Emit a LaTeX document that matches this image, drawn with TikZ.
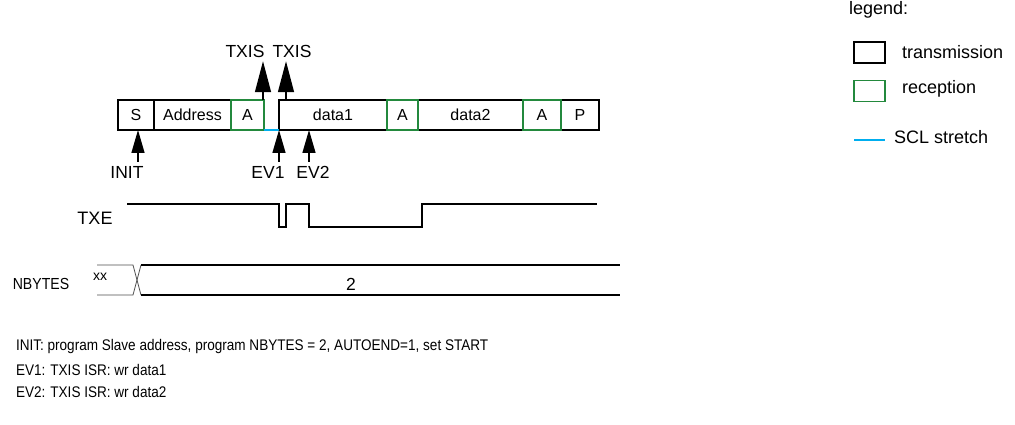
\documentclass[tikz,border=0pt]{standalone}
\usepackage{fontspec}
\setmainfont{Liberation Sans}
\usetikzlibrary{arrows.meta,positioning}
\definecolor{rxgreen}{HTML}{23893D}
\definecolor{sclblue}{HTML}{00AEEF}
\newcommand{\narrow}[1]{\scalebox{0.88}[1]{#1}}

\begin{document}
\begin{tikzpicture}[x=1pt,y=-1pt,line width=1.4pt,
      font=\fontsize{17.5}{20}\selectfont,
      fr/.style={draw,inner sep=0pt,outer sep=0pt,minimum height=30pt,font=\fontsize{16}{18}\selectfont},
      rx/.style={fr,draw=rxgreen},
      evt/.style={-{Triangle[length=23pt,width=13pt]}},
      flag/.style={-{Triangle[length=31pt,width=16pt]}},
      lgd/.style={anchor=west,font=\fontsize{18}{20}\selectfont},
      note/.style={anchor=west,font=\fontsize{15.4}{18}\selectfont}]
    \useasboundingbox (0,0) rectangle (1015,425);
    % frame: transmitted bytes first, received acks on top
    \node[fr,minimum width=36pt] (s) at (136,115) {S};
    \node[fr,minimum width=77pt,right=0pt of s] (ad) {Address};
    \node[fr,minimum width=108pt,right=48pt of ad] (d1) {data1};
    \node[fr,minimum width=105pt,right=31pt of d1] (d2) {data2};
    \node[fr,minimum width=38pt,right=38pt of d2] (p) {P};
    \node[rx,minimum width=33pt,right=0pt of ad] (a0) {A};
    \node[rx,minimum width=31pt,right=0pt of d1] (a1) {A};
    \node[rx,minimum width=38pt,right=0pt of d2] (a2) {A};
    \draw[sclblue] (a0.south east) -- (d1.south west);
    % TXIS flags
    \node (t1) at (245,51) {TXIS};
    \node (t2) at (292,51) {TXIS};
    \coordinate (f2) at ([xshift=7pt]d1.north west);
    \draw[flag] ([xshift=-1pt]a0.north east) -- ([xshift=-1pt]a0.north east |- t1.south);
    \draw[flag] (f2) -- (f2 |- t2.south);
    % events
    \node (init) at (127,172) {INIT};
    \node (ev1) at (268,172) {EV1};
    \node (ev2) at (313,172) {EV2};
    \coordinate (e2) at ([xshift=30pt]d1.south west);
    \draw[evt] ([xshift=2pt]init.north -| s.south) -- ([xshift=2pt]s.south);
    \draw[evt] (ev1.north -| d1.south west) -- (d1.south west);
    \draw[evt] (ev2.north -| e2) -- (e2);
    % TXE
    \node[font=\fontsize{18}{20}\selectfont] (txe) at (95,218) {TXE};
    \draw (127,204) -| (279,227) -| (286,204) -| (309,227) -| (422,204) -- (597,204);
    % NBYTES
    \node[font=\fontsize{16}{18}\selectfont] (nb) at (41,284) {\narrow{NBYTES}};
    \node[font=\fontsize{14}{16}\selectfont] (xx) at (100,277) {xx};
    \draw[line width=0.8pt,black!70] (97,265) -- (133,265) -- (141,295);
    \draw[line width=0.8pt,black!70] (97,295) -- (133,295) -- (141,265);
    \draw (141,265) -- (620,265);
    \draw (141,295) -- (620,295);
    \node (two) at (351,284) {2};
    % legend
    \node[lgd] (lg) at (845,9.5) {legend:};
    \node[fr,minimum width=31pt,minimum height=21pt] (ltx) at (869.5,52.5) {};
    \node[rx,minimum width=31pt,minimum height=21pt] (lrx) at (869.5,91) {};
    \node[lgd] (ltxt) at (898,52) {transmission};
    \node[lgd] (lrxt) at (898,89) {reception};
    \draw[sclblue,line width=1.5pt] (854,140) -- (885,140);
    \node[lgd] (lsc) at (890,137) {SCL stretch};
    % notes
    \node[note] (n1) at (12,347) {\narrow{INIT: program Slave address, program NBYTES = 2, AUTOEND=1, set START}};
    \node[note] (n2) at (12,370) {\narrow{EV1: TXIS ISR: wr data1}};
    \node[note] (n3) at (12,392) {\narrow{EV2: TXIS ISR: wr data2}};
  \end{tikzpicture}
\end{document}
